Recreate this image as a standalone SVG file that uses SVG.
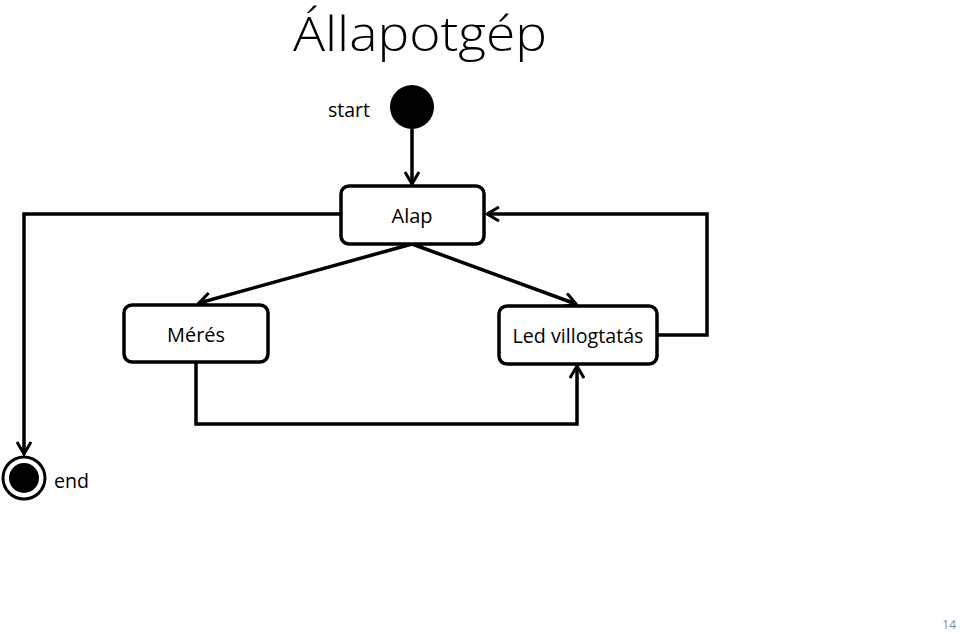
<svg xmlns="http://www.w3.org/2000/svg" width="960" height="634" viewBox="0 0 960 634">
<style>
.node{fill:#fff;stroke:#000;stroke-width:3.5}
.lbl{font-family:"Open Sans","Liberation Sans",sans-serif;font-size:20px;fill:#000}
.c{text-anchor:middle}
.edge{fill:none;stroke:#000;stroke-width:3.5}
</style>
<defs>
<marker id="arr" viewBox="0 0 16 16" refX="14" refY="8" markerWidth="16" markerHeight="16" markerUnits="userSpaceOnUse" orient="auto">
<path d="M2,1 L14,8 L2,15" fill="none" stroke="#000" stroke-width="3"/>
</marker>
</defs>
<rect width="960" height="634" fill="#fff"/>
<text x="420" y="51" class="c" style="font-family:'Open Sans','Liberation Sans',sans-serif;font-weight:300;font-size:47px" textLength="254" lengthAdjust="spacingAndGlyphs">Állapotgép</text>
<g id="connectors">
<path class="edge" d="M412,129 L412,184" marker-end="url(#arr)"/>
<path class="edge" d="M341,214 L24,214 L24,454" marker-end="url(#arr)"/>
<path class="edge" d="M657,335 L707,335 L707,214 L487,214" marker-end="url(#arr)"/>
<path class="edge" d="M412,244 L199,303" marker-end="url(#arr)"/>
<path class="edge" d="M412,244 L576,304" marker-end="url(#arr)"/>
<path class="edge" d="M196,362 L196,424 L577,424 L577,366" marker-end="url(#arr)"/>
</g>
<g id="start">
<circle cx="412" cy="107" r="22" fill="#000"/>
<text x="349" y="117" class="lbl c" textLength="42" lengthAdjust="spacingAndGlyphs">start</text>
</g>
<g id="alap">
<rect class="node" x="341" y="186" width="143" height="58" rx="8"/>
<text x="412" y="223" class="lbl c" textLength="41" lengthAdjust="spacingAndGlyphs">Alap</text>
</g>
<g id="meres">
<rect class="node" x="124" y="305" width="144" height="57" rx="8"/>
<text x="196" y="342" class="lbl c" textLength="58" lengthAdjust="spacingAndGlyphs">Mérés</text>
</g>
<g id="led">
<rect class="node" x="499" y="306" width="158" height="58" rx="8"/>
<text x="578" y="343" class="lbl c" textLength="131" lengthAdjust="spacingAndGlyphs">Led villogtatás</text>
</g>
<g id="end">
<circle cx="24" cy="478" r="21" fill="#fff" stroke="#000" stroke-width="3"/>
<circle cx="24" cy="478" r="15" fill="#000"/>
<text x="54" y="488" class="lbl" textLength="35" lengthAdjust="spacingAndGlyphs">end</text>
</g>
<text x="956" y="629" style="font-family:'Open Sans','Liberation Sans',sans-serif;font-size:12px;fill:#888;text-anchor:end">14</text>
</svg>
